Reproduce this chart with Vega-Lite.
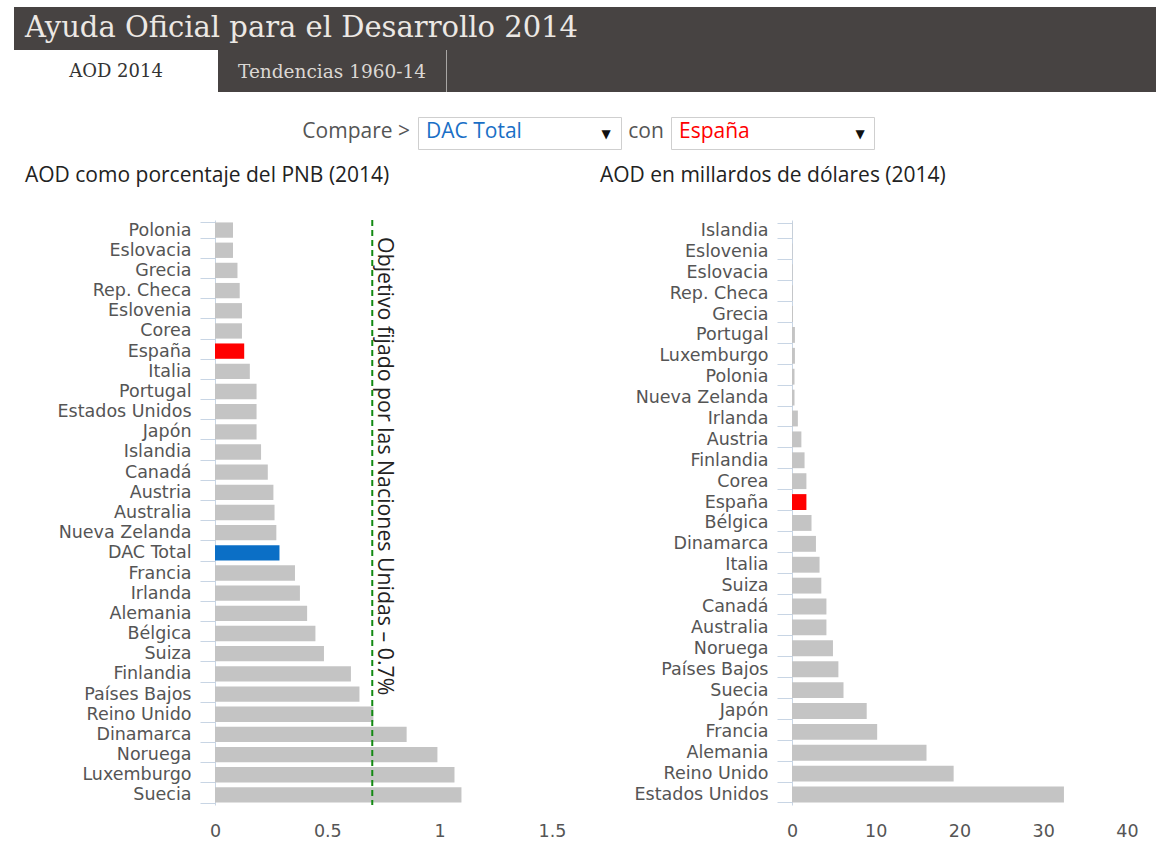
{
  "$schema": "https://vega.github.io/schema/vega-lite/v6.json",
  "padding": {"left": 14, "top": 7, "right": 0, "bottom": 0},
  "background": "white",
  "config": {"view": {"stroke": null}, "font": "DejaVu Sans"},
  "datasets": {
    "pnb": [
      {"pais": "Polonia", "valor": 0.08},
      {"pais": "Eslovacia", "valor": 0.08},
      {"pais": "Grecia", "valor": 0.10},
      {"pais": "Rep. Checa", "valor": 0.11},
      {"pais": "Eslovenia", "valor": 0.12},
      {"pais": "Corea", "valor": 0.12},
      {"pais": "España", "valor": 0.13},
      {"pais": "Italia", "valor": 0.155},
      {"pais": "Portugal", "valor": 0.185},
      {"pais": "Estados Unidos", "valor": 0.185},
      {"pais": "Japón", "valor": 0.185},
      {"pais": "Islandia", "valor": 0.205},
      {"pais": "Canadá", "valor": 0.235},
      {"pais": "Austria", "valor": 0.26},
      {"pais": "Australia", "valor": 0.265},
      {"pais": "Nueva Zelanda", "valor": 0.273},
      {"pais": "DAC Total", "valor": 0.287},
      {"pais": "Francia", "valor": 0.356},
      {"pais": "Irlanda", "valor": 0.378},
      {"pais": "Alemania", "valor": 0.41},
      {"pais": "Bélgica", "valor": 0.447},
      {"pais": "Suiza", "valor": 0.485},
      {"pais": "Finlandia", "valor": 0.605},
      {"pais": "Países Bajos", "valor": 0.643},
      {"pais": "Reino Unido", "valor": 0.705},
      {"pais": "Dinamarca", "valor": 0.853},
      {"pais": "Noruega", "valor": 0.99},
      {"pais": "Luxemburgo", "valor": 1.066},
      {"pais": "Suecia", "valor": 1.097}
    ],
    "usd": [
      {"pais": "Islandia", "valor": 0.04},
      {"pais": "Eslovenia", "valor": 0.06},
      {"pais": "Eslovacia", "valor": 0.08},
      {"pais": "Rep. Checa", "valor": 0.1},
      {"pais": "Grecia", "valor": 0.12},
      {"pais": "Portugal", "valor": 0.35},
      {"pais": "Luxemburgo", "valor": 0.35},
      {"pais": "Polonia", "valor": 0.3},
      {"pais": "Nueva Zelanda", "valor": 0.3},
      {"pais": "Irlanda", "valor": 0.7},
      {"pais": "Austria", "valor": 1.12},
      {"pais": "Finlandia", "valor": 1.5},
      {"pais": "Corea", "valor": 1.72},
      {"pais": "España", "valor": 1.72},
      {"pais": "Bélgica", "valor": 2.33},
      {"pais": "Dinamarca", "valor": 2.86},
      {"pais": "Italia", "valor": 3.29},
      {"pais": "Suiza", "valor": 3.5},
      {"pais": "Canadá", "valor": 4.11},
      {"pais": "Australia", "valor": 4.11},
      {"pais": "Noruega", "valor": 4.89},
      {"pais": "Países Bajos", "valor": 5.54},
      {"pais": "Suecia", "valor": 6.15},
      {"pais": "Japón", "valor": 8.92},
      {"pais": "Francia", "valor": 10.17},
      {"pais": "Alemania", "valor": 16.06},
      {"pais": "Reino Unido", "valor": 19.3},
      {"pais": "Estados Unidos", "valor": 32.47}
    ],
    "meta": [
      {"meta": 0.7, "texto": "Objetivo fijado por las Naciones Unidas – 0.7%"}
    ]
  },
  "spacing": 24,
  "vconcat": [
    {
      "spacing": 0,
      "vconcat": [
        {
          "width": 1142,
          "height": 43,
          "view": {"fill": "#474342", "stroke": null},
          "data": {"values": [{"t": "Ayuda Oficial para el Desarrollo 2014"}]},
          "mark": {"type": "text", "font": "DejaVu Serif", "fontSize": 29, "color": "#ece8e4", "align": "left", "baseline": "middle", "x": 11, "y": 21},
          "encoding": {"text": {"field": "t"}}
        },
        {
          "spacing": 0,
          "hconcat": [
            {
              "width": 204,
              "height": 42,
              "view": {"fill": "#ffffff", "stroke": null},
              "data": {"values": [{"t": "AOD 2014"}]},
              "mark": {"type": "text", "font": "DejaVu Serif", "fontSize": 18, "color": "#333333", "align": "center", "baseline": "middle", "x": 102, "y": 22},
              "encoding": {"text": {"field": "t"}}
            },
            {
              "width": 228,
              "height": 42,
              "view": {"fill": "#474342", "stroke": null},
              "data": {"values": [{"t": "Tendencias 1960-14"}]},
              "mark": {"type": "text", "font": "DejaVu Serif", "fontSize": 18.5, "color": "#dcd8d4", "align": "center", "baseline": "middle", "x": 114, "y": 22},
              "encoding": {"text": {"field": "t"}}
            },
            {
              "width": 1,
              "height": 42,
              "view": {"fill": "#a8a6a4", "stroke": null},
              "data": {"values": [{"t": ""}]},
              "mark": {"type": "text", "x": 0, "y": 21},
              "encoding": {"text": {"field": "t"}}
            },
            {
              "width": 709,
              "height": 42,
              "view": {"fill": "#474342", "stroke": null},
              "data": {"values": [{"t": ""}]},
              "mark": {"type": "text", "x": 10, "y": 21},
              "encoding": {"text": {"field": "t"}}
            }
          ]
        }
      ]
    },
    {
      "spacing": 15,
      "vconcat": [
        {
          "spacing": 0,
          "hconcat": [
            {
              "width": 403,
              "height": 32,
              "data": {"values": [{"t": "Compare >"}]},
              "mark": {"type": "text", "font": "Open Sans", "fontSize": 21, "color": "#555555", "align": "right", "baseline": "middle", "x": 396, "y": 15},
              "encoding": {"text": {"field": "t"}}
            },
            {
              "width": 203,
              "height": 32,
              "view": {"fill": "#ffffff", "stroke": "#cfcfcf"},
              "data": {"values": [{"t": "DAC Total", "f": "▼"}]},
              "layer": [
                {
                  "mark": {"type": "text", "font": "Open Sans", "fontSize": 21, "color": "#1a6fc6", "align": "left", "baseline": "middle", "x": 8, "y": 15},
                  "encoding": {"text": {"field": "t"}}
                },
                {
                  "mark": {"type": "text", "font": "DejaVu Sans", "fontSize": 12, "color": "#111111", "align": "center", "baseline": "middle", "x": 188, "y": 17},
                  "encoding": {"text": {"field": "f"}}
                }
              ]
            },
            {
              "width": 48,
              "height": 32,
              "data": {"values": [{"t": "con"}]},
              "mark": {"type": "text", "font": "Open Sans", "fontSize": 21, "color": "#555555", "align": "center", "baseline": "middle", "x": 24, "y": 15},
              "encoding": {"text": {"field": "t"}}
            },
            {
              "width": 203,
              "height": 32,
              "view": {"fill": "#ffffff", "stroke": "#cfcfcf"},
              "data": {"values": [{"t": "España", "f": "▼"}]},
              "layer": [
                {
                  "mark": {"type": "text", "font": "Open Sans", "fontSize": 21, "color": "#ff0000", "align": "left", "baseline": "middle", "x": 8, "y": 15},
                  "encoding": {"text": {"field": "t"}}
                },
                {
                  "mark": {"type": "text", "font": "DejaVu Sans", "fontSize": 12, "color": "#111111", "align": "center", "baseline": "middle", "x": 189, "y": 17},
                  "encoding": {"text": {"field": "f"}}
                }
              ]
            }
          ]
        },
        {
          "spacing": 0,
          "hconcat": [
            {
              "width": 1,
              "height": 1,
              "data": {"values": [{"t": ""}]},
              "mark": {"type": "text", "x": 0, "y": 0},
              "encoding": {"text": {"field": "t"}}
            },
            {
              "spacing": 34,
              "hconcat": [
                {
                  "width": 337,
                  "height": 585,
                  "title": {"text": "AOD como porcentaje del PNB (2014)", "anchor": "start", "frame": "bounds", "dx": 10, "font": "Open Sans", "fontSize": 21, "fontWeight": "normal", "color": "#222222", "offset": 25},
                  "layer": [
                    {
                      "data": {"name": "pnb"},
                      "mark": {"type": "bar"},
                      "encoding": {
                        "y": {
                          "field": "pais", "type": "nominal", "sort": null,
                          "scale": {"paddingInner": 0.24, "paddingOuter": 0.12},
                          "axis": {"title": null, "domainColor": "#c8d5e4", "tickColor": "#c8d5e4", "tickSize": 15, "tickBand": "extent", "labelPadding": 9, "labelFont": "DejaVu Sans", "labelFontSize": 17.5, "labelColor": "#555555", "minExtent": 200, "maxExtent": 200}
                        },
                        "x": {
                          "field": "valor", "type": "quantitative",
                          "scale": {"domain": [0, 1.5], "nice": false},
                          "axis": {"title": null, "values": [0, 0.5, 1, 1.5], "format": "~g", "domain": false, "ticks": false, "grid": false, "labelFlush": false, "labelPadding": 17, "labelFont": "DejaVu Sans", "labelFontSize": 17.5, "labelColor": "#555555"}
                        },
                        "color": {
                          "condition": [
                            {"test": "datum.pais === 'España'", "value": "#ff0000"},
                            {"test": "datum.pais === 'DAC Total'", "value": "#0b6fc6"}
                          ],
                          "value": "#c4c4c4"
                        }
                      }
                    },
                    {
                      "data": {"name": "meta"},
                      "mark": {"type": "rule", "color": "#138a13", "strokeDash": [6, 4], "strokeWidth": 2},
                      "encoding": {"x": {"field": "meta", "type": "quantitative"}}
                    },
                    {
                      "data": {"name": "meta"},
                      "mark": {"type": "text", "angle": 90, "align": "left", "baseline": "bottom", "dx": 7, "dy": -2, "font": "Open Sans", "fontSize": 21.3, "color": "#222222"},
                      "encoding": {
                        "x": {"field": "meta", "type": "quantitative"},
                        "y": {"datum": "Polonia", "type": "nominal"},
                        "text": {"field": "texto"}
                      }
                    }
                  ]
                },
                {
                  "width": 335,
                  "height": 585,
                  "title": {"text": "AOD en millardos de dólares (2014)", "anchor": "start", "frame": "bounds", "dx": 0, "font": "Open Sans", "fontSize": 21, "fontWeight": "normal", "color": "#222222", "offset": 25},
                  "data": {"name": "usd"},
                  "mark": {"type": "bar"},
                  "encoding": {
                    "y": {
                      "field": "pais", "type": "nominal", "sort": null,
                      "scale": {"paddingInner": 0.24, "paddingOuter": 0.12},
                      "axis": {"title": null, "domainColor": "#c8d5e4", "tickColor": "#c8d5e4", "tickSize": 15, "tickBand": "extent", "labelPadding": 9, "labelFont": "DejaVu Sans", "labelFontSize": 17.5, "labelColor": "#555555", "minExtent": 192, "maxExtent": 192}
                    },
                    "x": {
                      "field": "valor", "type": "quantitative",
                      "scale": {"domain": [0, 40], "nice": false},
                      "axis": {"title": null, "values": [0, 10, 20, 30, 40], "domain": false, "ticks": false, "grid": false, "labelFlush": false, "labelPadding": 17, "labelFont": "DejaVu Sans", "labelFontSize": 17.5, "labelColor": "#555555"}
                    },
                    "color": {
                      "condition": [
                        {"test": "datum.pais === 'España'", "value": "#ff0000"}
                      ],
                      "value": "#c4c4c4"
                    }
                  }
                }
              ]
            }
          ]
        }
      ]
    }
  ]
}
